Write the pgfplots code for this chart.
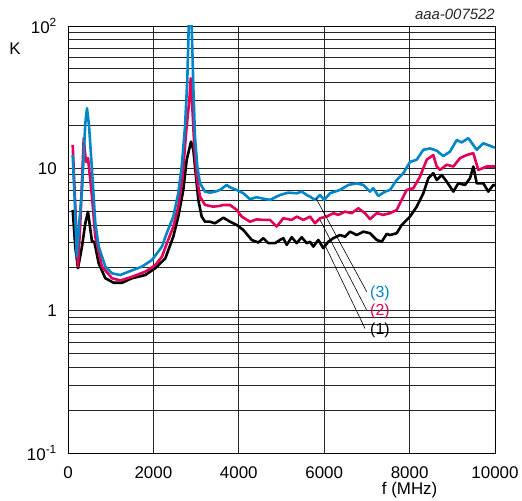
\documentclass[border=0pt]{standalone}
\usepackage{pgfplots}
\pgfplotsset{compat=1.18}
\usepackage{fontspec}
\setmainfont{Liberation Sans}
\definecolor{cthree}{RGB}{0,134,201}
\definecolor{ctwo}{RGB}{228,0,88}
\begin{document}
\fontsize{17}{20}\selectfont
\begin{tikzpicture}
\begin{axis}[
  scale only axis, width=427bp, height=427bp,
  xmin=0, xmax=10000, ymode=log, ymin=0.1, ymax=100,
  scaled x ticks=false,
  xtick={0,2000,4000,6000,8000,10000},
  xticklabels={0,2000,4000,6000,8000,10000},
  ytick={0.1,1,10,100},
  yticklabels={10\textsuperscript{-1},1,10,10\textsuperscript{2}},
  minor ytick={0.2,0.3,0.4,0.5,0.6,0.7,0.8,0.9,2,3,4,5,6,7,8,9,20,30,40,50,60,70,80,90},
  grid=both,
  major grid style={black!85, line width=0.7bp},
  minor grid style={black!85, line width=0.7bp},
  axis line style={line width=0.8bp},
  major tick length=0pt, minor tick length=0pt,
  tick label style={font=\fontsize{17}{20}\selectfont},
  xticklabel style={anchor=north, inner sep=0pt, yshift=-13bp},
  yticklabel style={anchor=east, inner sep=0pt, xshift=-11bp},
  every axis plot/.append style={line width=2.6bp, line join=round},
]
\coordinate (bl) at (rel axis cs:0,0);
\coordinate (tr) at (rel axis cs:1,1);

% (1)
\addplot[black] coordinates {
(110,5.10) (171,2.8) (234,1.99) (328,2.82) (405,4.11) (468,4.96) (562,3.05) (616,3.05)
(719,2.15) (874,1.69) (1070,1.57) (1265,1.57) (1499,1.69) (1810,1.78) (2045,1.99) (2279,2.33)
(2466,3.31) (2583,4.58) (2700,7.05) (2780,11.5) (2881,15.4) (2935,13.5) (2998,8.75) (3052,6.0)
(3131,4.58) (3209,4.22) (3326,4.22) (3443,4.11) (3560,4.34) (3637,4.5) (3794,4.22) (3951,4.0)
(4106,3.69) (4302,3.14) (4457,3.01) (4574,3.23) (4691,2.98) (4848,2.98) (4965,3.14) (5042,3.23)
(5122,2.90) (5239,3.28) (5356,2.98) (5473,3.28) (5590,2.98) (5668,3.05) (5745,2.82) (5862,3.14)
(5979,2.75) (6096,3.05) (6213,3.23) (6370,3.40) (6487,3.31) (6604,3.59) (6761,3.40) (6916,3.59)
(7073,3.50) (7230,3.14) (7347,3.05) (7464,3.46) (7541,3.40) (7698,3.50) (7815,4.0) (8010,4.58)
(8167,5.38) (8321,6.68) (8438,8.52) (8555,9.24) (8635,8.28) (8752,8.98) (8869,8.07) (9024,6.86)
(9141,7.85) (9298,7.64) (9415,8.52) (9492,10.3) (9572,7.85) (9726,7.85) (9843,6.86) (9960,7.64)
(10000,7.6)
};
% (2)
\addplot[ctwo] coordinates {
(110,14.6) (171,5.4) (234,2.04) (288,4.11) (368,16.3) (420,11.1) (468,11.8) (562,6.33)
(639,3.31) (796,2.04) (1030,1.69) (1225,1.63) (1499,1.73) (1810,1.88) (2045,2.09) (2201,2.4)
(2312,2.95) (2466,3.89) (2583,5.38) (2686,8.75) (2764,17.6) (2841,30.2) (2874,43) (2911,27.1)
(2958,14.2) (3014,8.75) (3091,6.33) (3209,5.53) (3403,5.38) (3560,5.45) (3637,5.53) (3794,5.53)
(3951,5.10) (4068,4.58) (4262,4.22) (4420,4.38) (4574,4.34) (4731,4.34) (4888,3.90) (5042,4.46)
(5239,4.34) (5356,4.58) (5511,4.34) (5668,4.58) (5785,4.11) (5902,4.46) (6059,4.58) (6213,4.84)
(6330,4.71) (6487,4.96) (6644,4.84) (6799,5.24) (6956,4.84) (7073,4.40) (7230,4.84) (7384,4.71)
(7541,4.84) (7698,5.10) (7775,5.69) (7932,7.05) (8087,7.25) (8244,8.75) (8401,11.5) (8555,12.4)
(8635,10.3) (8712,9.75) (8869,10.6) (9024,10.3) (9181,11.8) (9337,12.4) (9492,12.8) (9609,9.75)
(9806,10.3) (10000,10.3)
};
% (3)
\addplot[cthree] coordinates {
(110,12.4) (157,6.0) (205,2.4) (260,4.0) (328,7.05) (405,20.7) (445,26.4) (492,20)
(562,9.75) (639,4.14) (719,2.82) (874,2.04) (1030,1.83) (1225,1.78) (1422,1.88) (1733,2.04)
(1967,2.27) (2201,2.82) (2312,3.50) (2466,4.58) (2583,6.68) (2663,10.3) (2740,19.6) (2794,41.8)
(2827,99) (2862,180) (2897,99) (2935,37.5) (2974,16.7) (3028,10.3) (3091,7.85) (3209,6.86)
(3326,6.75) (3443,6.86) (3560,7.05) (3716,7.64) (3794,7.36) (3951,7.05) (4106,6.68) (4262,6.07)
(4420,6.27) (4574,6.12) (4731,6.00) (4965,6.50) (5159,6.75) (5356,6.68) (5473,6.86) (5590,6.50)
(5668,6.33) (5785,6.00) (5902,6.50) (6002,6.00) (6136,6.68) (6370,7.05) (6565,7.64) (6761,7.85)
(6916,7.64) (7073,6.86) (7150,7.25) (7267,6.40) (7424,6.86) (7541,7.05) (7698,8.28) (7853,9.24)
(8010,11.1) (8167,11.5) (8321,13.5) (8478,13.8) (8635,13.3) (8789,12.2) (8946,13.1) (9103,15.8)
(9220,15.2) (9375,16.3) (9572,13.5) (9726,15.0) (9960,14.1) (10000,14.0)
};

\draw[line width=0.6bp] (axis cs:5808,6.16) -- (axis cs:6995,1.36);
\draw[line width=0.6bp] (axis cs:5902,4.34) -- (axis cs:6995,1.01);
\draw[line width=0.6bp] (axis cs:5979,3.05) -- (axis cs:6956,0.75);
\node[anchor=west, inner sep=0pt, text=cthree, font=\fontsize{16}{19}\selectfont] at (axis cs:7073,1.325) {(3)};
\node[anchor=west, inner sep=0pt, text=ctwo, font=\fontsize{16}{19}\selectfont] at (axis cs:7073,0.995) {(2)};
\node[anchor=west, inner sep=0pt, font=\fontsize{16}{19}\selectfont] at (axis cs:7073,0.73) {(1)};
\end{axis}
\node[inner sep=0pt] at ([xshift=-53bp, yshift=-23bp]tr -| bl) {K};
\node[anchor=north, inner sep=0pt] at ([xshift=341.6bp, yshift=-29bp]bl) {f (MHz)};
\node[anchor=east, inner sep=0pt, text=black!85, font=\itshape\fontsize{15}{18}\selectfont] at ([yshift=12bp]tr) {aaa-007522};
\pgfresetboundingbox
\path[use as bounding box] ([shift={(-68bp,-48bp)}]bl) rectangle ([shift={(27bp,26bp)}]tr);
\end{tikzpicture}
\end{document}
